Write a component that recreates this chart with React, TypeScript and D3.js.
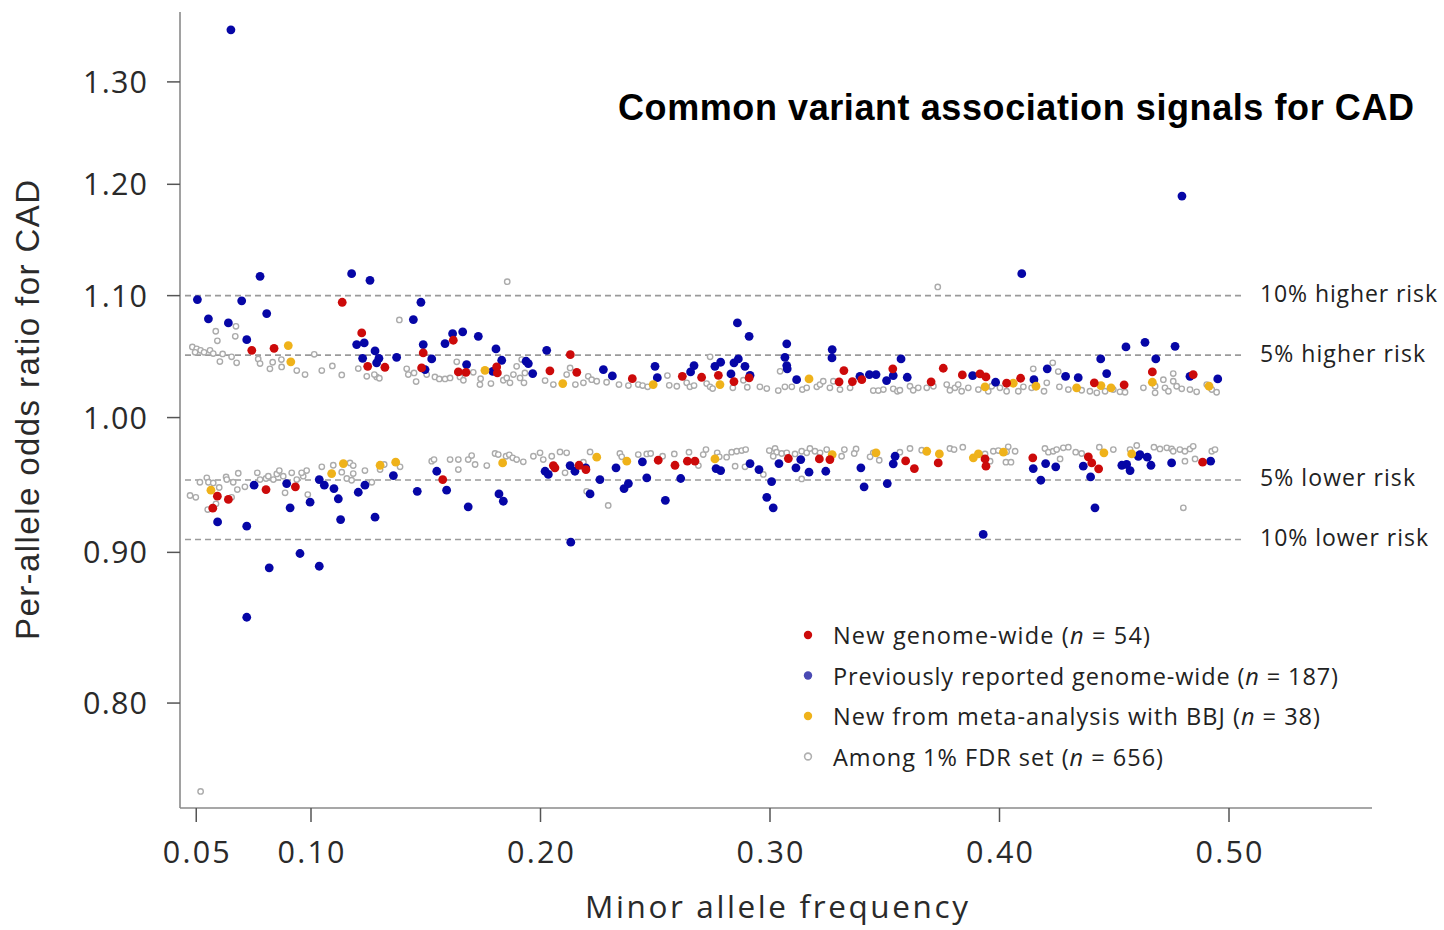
import React from 'react';
import * as d3 from 'd3';

// Per-variant minor allele frequency and per-allele odds ratio, [maf, or]
const newGenomeWide: [number, number][] = [
  [0.1136, 1.0943], [0.1221, 1.0684], [0.0742, 1.054], [0.0839, 1.0556], [0.1247, 1.0409], [0.1322, 1.0401],
  [0.1482, 1.0396], [0.162, 1.0623], [0.1489, 1.0518], [0.1642, 1.0363], [0.1675, 1.036], [0.1809, 1.0404],
  [0.1812, 1.0355], [0.2041, 1.0372], [0.213, 1.0504], [0.2158, 1.036], [0.24, 1.0309], [0.2618, 1.0328],
  [0.2702, 1.032], [0.2775, 1.0336], [0.2843, 1.0285], [0.2909, 1.0315], [0.3322, 1.0374], [0.3301, 1.0283],
  [0.3359, 1.0285], [0.34, 1.0301], [0.3535, 1.0388], [0.3755, 1.0393], [0.3702, 1.0283], [0.3838, 1.0339],
  [0.3915, 1.0347], [0.3941, 1.0323], [0.4031, 1.0272], [0.4092, 1.0312], [0.4413, 1.0275], [0.4543, 1.0259],
  [0.4666, 1.0363], [0.4844, 1.0342],
  [0.0592, 0.9404], [0.064, 0.938], [0.0572, 0.9316], [0.0804, 0.9453], [0.0932, 0.9473], [0.1574, 0.9527],
  [0.2056, 0.9632], [0.2063, 0.9615], [0.2168, 0.9634], [0.2198, 0.9602], [0.2513, 0.9672], [0.2586, 0.9634],
  [0.264, 0.9665], [0.2673, 0.9665], [0.308, 0.9685], [0.3215, 0.9682], [0.3261, 0.9677], [0.3591, 0.9667],
  [0.3629, 0.9609], [0.3733, 0.9652], [0.3937, 0.9682], [0.3941, 0.9627], [0.4145, 0.969], [0.4387, 0.9698],
  [0.4402, 0.9652], [0.4432, 0.9607], [0.4885, 0.9657],
];

const previouslyReported: [number, number][] = [
  [0.0651, 1.354], [0.4795, 1.189], [0.4097, 1.119], [0.0778, 1.1167], [0.1177, 1.119], [0.1257, 1.1132],
  [0.0505, 1.0966], [0.0698, 1.0955], [0.0807, 1.0847], [0.0553, 1.0802], [0.064, 1.0768], [0.072, 1.0628],
  [0.1199, 1.0587], [0.1232, 1.0601], [0.1225, 1.0474], [0.1279, 1.0535], [0.1296, 1.0474], [0.1286, 1.0437],
  [0.1373, 1.0482], [0.1446, 1.0796], [0.1479, 1.0943], [0.1617, 1.0678], [0.1661, 1.0693], [0.1584, 1.0595],
  [0.1729, 1.0656], [0.1489, 1.0587], [0.1526, 1.0469], [0.1806, 1.0551], [0.1831, 1.0458], [0.1678, 1.0423],
  [0.1937, 1.045], [0.1947, 1.0431], [0.1966, 1.035], [0.2027, 1.054], [0.1497, 1.0382], [0.1792, 1.0368],
  [0.2274, 1.0382], [0.2313, 1.0331], [0.2499, 1.0409], [0.2509, 1.0317], [0.2858, 1.0768], [0.2909, 1.0656],
  [0.3073, 1.0593], [0.3065, 1.0482], [0.3073, 1.0415], [0.3075, 1.0388], [0.3271, 1.0546], [0.327, 1.0477],
  [0.3571, 1.0469], [0.2669, 1.0415], [0.2654, 1.0363], [0.276, 1.0409], [0.2785, 1.0442], [0.2843, 1.0437],
  [0.2862, 1.0469], [0.2891, 1.0409], [0.283, 1.0347], [0.2913, 1.0336], [0.3116, 1.0301], [0.3392, 1.0328],
  [0.3433, 1.0342], [0.3462, 1.0342], [0.3508, 1.0293], [0.3537, 1.0334], [0.4551, 1.0568], [0.4441, 1.0469],
  [0.4467, 1.035], [0.3598, 1.032], [0.3883, 1.0334], [0.3983, 1.028], [0.415, 1.0301], [0.4208, 1.0388],
  [0.4288, 1.0328], [0.4343, 1.0317], [0.4634, 1.0606], [0.4765, 1.0573], [0.4681, 1.0469], [0.483, 1.0328],
  [0.4951, 1.0307],
  [0.0752, 0.9485], [0.0894, 0.9497], [0.1036, 0.9527], [0.1058, 0.9485], [0.11, 0.946], [0.1235, 0.9485],
  [0.1206, 0.9433], [0.1359, 0.9557], [0.1463, 0.944], [0.0996, 0.936], [0.1119, 0.9385], [0.0909, 0.9319],
  [0.0593, 0.9217], [0.072, 0.9186], [0.1129, 0.9234], [0.1279, 0.9251], [0.0952, 0.8992], [0.0818, 0.8892],
  [0.1036, 0.8903], [0.072, 0.8555], [0.1548, 0.9589], [0.1591, 0.9448], [0.1685, 0.9326], [0.1819, 0.9421],
  [0.1838, 0.9367], [0.202, 0.9589], [0.2034, 0.9565], [0.2129, 0.9632], [0.215, 0.9589], [0.2197, 0.9615],
  [0.2216, 0.9421], [0.2259, 0.9527], [0.2329, 0.9615], [0.2364, 0.946], [0.2383, 0.9497], [0.2444, 0.966],
  [0.2463, 0.954], [0.2132, 0.9072], [0.2765, 0.9609], [0.2785, 0.9594], [0.2913, 0.9647], [0.2952, 0.9602],
  [0.3007, 0.9512], [0.2986, 0.9396], [0.3014, 0.9319], [0.3039, 0.9647], [0.3113, 0.9615], [0.3134, 0.9677],
  [0.317, 0.9582], [0.3243, 0.9589], [0.3396, 0.9615], [0.341, 0.9473], [0.3511, 0.9497], [0.3545, 0.9702],
  [0.3537, 0.9645], [0.2544, 0.9374], [0.2611, 0.9535], [0.3929, 0.9127], [0.4416, 0.9319], [0.4147, 0.9609],
  [0.4201, 0.9647], [0.4245, 0.9622], [0.418, 0.9522], [0.4365, 0.9627], [0.4397, 0.9547], [0.4533, 0.9634],
  [0.4554, 0.964], [0.4569, 0.9594], [0.4605, 0.9702], [0.4612, 0.9715], [0.4644, 0.9695], [0.466, 0.9634],
  [0.475, 0.9652], [0.492, 0.9665],
];

const newFromBBJ: [number, number][] = [
  [0.0901, 1.0579], [0.0912, 1.0445], [0.1758, 1.0376], [0.2097, 1.0269], [0.2491, 1.0261], [0.2782, 1.0261],
  [0.317, 1.0307], [0.3937, 1.0243], [0.406, 1.0272], [0.4159, 1.0248], [0.4336, 1.0235], [0.4442, 1.0253],
  [0.4486, 1.0235], [0.4666, 1.028], [0.4913, 1.0248],
  [0.0564, 0.9448], [0.109, 0.9572], [0.1141, 0.9647], [0.1301, 0.9634], [0.1369, 0.9657], [0.1835, 0.9652],
  [0.2245, 0.9695], [0.2376, 0.9665], [0.276, 0.9682], [0.3271, 0.9715], [0.3462, 0.9728], [0.3683, 0.974],
  [0.3738, 0.972], [0.3886, 0.969], [0.3908, 0.972], [0.4017, 0.9733], [0.4455, 0.9728], [0.4576, 0.972],
];

const fdrSet: [number, number][] = [
  [0.0483, 1.0568], [0.0502, 1.0552], [0.0495, 1.0523], [0.0519, 1.054], [0.0534, 1.0523], [0.056, 1.054],
  [0.0574, 1.0513], [0.0615, 1.051], [0.0603, 1.0447], [0.0654, 1.0486], [0.0676, 1.0437], [0.0585, 1.0698],
  [0.0592, 1.0618], [0.0673, 1.0739], [0.067, 1.0656], [0.077, 1.0469], [0.0778, 1.0431], [0.0821, 1.0388],
  [0.0833, 1.0442], [0.0871, 1.0464], [0.0872, 1.0404], [0.0938, 1.0374], [0.0974, 1.0342], [0.1014, 1.0507],
  [0.1047, 1.0374], [0.1093, 1.0412], [0.1134, 1.0339], [0.1206, 1.039], [0.1243, 1.0328], [0.1286, 1.0323],
  [0.1298, 1.0312], [0.1276, 1.0342], [0.1385, 1.0793], [0.1417, 1.0388], [0.1424, 1.0342], [0.1458, 1.0285],
  [0.1449, 1.0355],
  [0.0473, 0.9409], [0.0498, 0.9396], [0.0516, 0.9507], [0.0546, 0.954], [0.0553, 0.9507], [0.0574, 0.9502],
  [0.06, 0.9468], [0.055, 0.9306], [0.0586, 0.9348], [0.063, 0.9547], [0.0633, 0.9527], [0.0654, 0.9396],
  [0.0661, 0.9507], [0.0679, 0.9453], [0.0683, 0.9574], [0.0712, 0.9473], [0.0766, 0.9577], [0.0778, 0.9527],
  [0.0804, 0.9535], [0.0814, 0.9552], [0.0836, 0.9527], [0.0851, 0.9569], [0.0862, 0.9594], [0.0879, 0.9552],
  [0.0887, 0.9429], [0.0916, 0.9577], [0.0938, 0.9527], [0.0966, 0.9552], [0.0981, 0.9594], [0.0959, 0.9577],
  [0.0986, 0.9416], [0.1047, 0.9622], [0.1097, 0.9634], [0.1134, 0.9582], [0.1156, 0.9535], [0.117, 0.9652],
  [0.1184, 0.9632], [0.1184, 0.9572], [0.1177, 0.9522], [0.1235, 0.9594], [0.1265, 0.9507], [0.1301, 0.9602],
  [0.1319, 0.964], [0.1388, 0.9622],
  [0.1855, 1.1121], [0.1504, 1.0342], [0.154, 1.0323], [0.1559, 1.0307], [0.1584, 1.0307], [0.1606, 1.0315],
  [0.1635, 1.0445], [0.1649, 1.0323], [0.1664, 1.0296], [0.1707, 1.036], [0.1736, 1.0261], [0.1739, 1.0309],
  [0.1784, 1.0269], [0.1838, 1.0296], [0.1853, 1.0315], [0.1867, 1.0275], [0.1882, 1.0342], [0.1896, 1.0409],
  [0.1911, 1.0315], [0.1918, 1.0464], [0.1928, 1.0275], [0.1932, 1.0355], [0.202, 1.0293], [0.2056, 1.0261],
  [0.2114, 1.0342], [0.2129, 1.0396], [0.2152, 1.0261], [0.2187, 1.0275], [0.2208, 1.0328], [0.2223, 1.0301],
  [0.2245, 1.0288], [0.2288, 1.028], [0.2342, 1.0261], [0.2383, 1.0253], [0.2426, 1.0261], [0.2445, 1.0253],
  [0.2467, 1.0243],
  [0.1526, 0.9665], [0.1536, 0.9677], [0.1606, 0.9677], [0.1642, 0.9677], [0.1642, 0.9602], [0.1685, 0.9677],
  [0.17, 0.9707], [0.1715, 0.964], [0.1766, 0.9632], [0.1802, 0.9723], [0.1816, 0.9715], [0.185, 0.9702],
  [0.1864, 0.9713], [0.1879, 0.969], [0.1896, 0.9677], [0.1925, 0.966], [0.1969, 0.9702], [0.1998, 0.9728],
  [0.2012, 0.9677], [0.2049, 0.9702], [0.2085, 0.9735], [0.2114, 0.9728], [0.2107, 0.9577], [0.2187, 0.9657],
  [0.2201, 0.944], [0.2216, 0.9735], [0.2295, 0.9336], [0.2346, 0.9723], [0.2354, 0.9698], [0.2426, 0.9715],
  [0.2463, 0.972], [0.248, 0.9723],
  [0.2553, 1.0334], [0.2561, 1.0255], [0.2594, 1.0248], [0.2637, 1.0275], [0.2651, 1.0243], [0.2669, 1.0253],
  [0.2724, 1.0269], [0.2739, 1.0243], [0.275, 1.0229], [0.2739, 1.0486], [0.2838, 1.0235], [0.2884, 1.0296],
  [0.2901, 1.024], [0.2956, 1.0243], [0.2986, 1.0229], [0.3036, 1.0213], [0.3044, 1.0368], [0.3065, 1.0243],
  [0.3095, 1.0243], [0.3141, 1.0221], [0.316, 1.0235], [0.3204, 1.0243], [0.3218, 1.0261], [0.3232, 1.0288],
  [0.3261, 1.0235], [0.3276, 1.0288], [0.3305, 1.0221], [0.3349, 1.0235], [0.345, 1.0213], [0.3472, 1.0213],
  [0.3494, 1.0221], [0.3537, 1.0227], [0.3555, 1.0208],
  [0.2532, 0.9702], [0.2583, 0.972], [0.2647, 0.9733], [0.2688, 0.9632], [0.2709, 0.9715], [0.2721, 0.9753],
  [0.277, 0.9728], [0.2779, 0.9698], [0.2811, 0.9695], [0.2833, 0.9733], [0.2855, 0.974], [0.2877, 0.9745],
  [0.2894, 0.9753], [0.2848, 0.9627], [0.2891, 0.9622], [0.2971, 0.9565], [0.2997, 0.9745], [0.3022, 0.9761],
  [0.3029, 0.9733], [0.3014, 0.9702], [0.3051, 0.9723], [0.3073, 0.9728], [0.3109, 0.972], [0.3138, 0.974],
  [0.316, 0.9728], [0.3174, 0.9761], [0.3138, 0.9532], [0.3196, 0.974], [0.3218, 0.9728], [0.3247, 0.9753],
  [0.3312, 0.9702], [0.3324, 0.9753], [0.3375, 0.9758], [0.3367, 0.9723], [0.345, 0.9728], [0.3436, 0.9698],
  [0.3476, 0.9672],
  [0.3731, 1.1075], [0.3566, 1.0216], [0.361, 1.0248], [0.3624, 1.0216], [0.3646, 1.0235], [0.3683, 1.0235],
  [0.3712, 1.0248], [0.377, 1.0261], [0.3784, 1.0216], [0.3806, 1.0235], [0.382, 1.0261], [0.3835, 1.0208],
  [0.3864, 1.0235], [0.3908, 1.0221], [0.3951, 1.0208], [0.3966, 1.0248], [0.4002, 1.0235], [0.4031, 1.0208],
  [0.4082, 1.0208], [0.4104, 1.0243], [0.414, 1.0235], [0.4147, 1.0388], [0.4194, 1.0208], [0.4206, 1.0275],
  [0.4232, 1.0437], [0.4256, 1.0366], [0.4261, 1.0243], [0.43, 1.0221], [0.4358, 1.0216], [0.4394, 1.0208],
  [0.4424, 1.0195], [0.446, 1.0208], [0.4496, 1.0221], [0.4525, 1.0203], [0.4547, 1.02],
  [0.3566, 0.9733], [0.361, 0.9761], [0.3661, 0.9748], [0.3784, 0.9761], [0.3802, 0.9753], [0.384, 0.9771],
  [0.3937, 0.972], [0.3959, 0.9665], [0.3973, 0.974], [0.3995, 0.9745], [0.4038, 0.9774], [0.4031, 0.9736],
  [0.4068, 0.974], [0.4028, 0.9657], [0.405, 0.9657], [0.4198, 0.9761], [0.4213, 0.9733], [0.4234, 0.974],
  [0.4249, 0.9753], [0.4264, 0.9682], [0.4278, 0.9766], [0.43, 0.9771], [0.4332, 0.9733], [0.4358, 0.9723],
  [0.4435, 0.9771], [0.4496, 0.9753], [0.4569, 0.9753], [0.4598, 0.9784],
  [0.4627, 1.0235], [0.4678, 1.0248], [0.4714, 1.0301], [0.4721, 1.0235], [0.4757, 1.035], [0.4757, 1.0288],
  [0.4772, 1.0248], [0.4794, 1.0227], [0.483, 1.0221], [0.4859, 1.0203], [0.4903, 1.0261], [0.4925, 1.0221],
  [0.4946, 1.02], [0.4678, 1.0195], [0.4736, 1.0208],
  [0.4673, 0.9771], [0.4699, 0.9758], [0.4729, 0.9766], [0.475, 0.9758], [0.4757, 0.974], [0.4786, 0.9753],
  [0.4808, 0.974], [0.483, 0.9758], [0.4844, 0.9778], [0.4852, 0.9682], [0.4808, 0.9665], [0.4925, 0.974],
  [0.4939, 0.9753], [0.4801, 0.9319],
  [0.0519, 0.7466],
];

const xTickValues = [0.05, 0.1, 0.2, 0.3, 0.4, 0.5];
const yTickValues = [0.8, 0.9, 1.0, 1.1, 1.2, 1.3];

// Reference odds ratios: 10% / 5% higher and lower risk
const riskLines = [
  { or: 1.1, label: '10% higher risk', width: 177 },
  { or: 1.05, label: '5% higher risk', width: 165 },
  { or: 1 / 1.05, label: '5% lower risk', width: 155 },
  { or: 1 / 1.1, label: '10% lower risk', width: 168 },
];

const legendItems = [
  { label: 'New genome-wide', n: 54, color: '#cc0a0a', open: false, width: 317 },
  { label: 'Previously reported genome-wide', n: 187, color: '#4a4ab4', open: false, width: 505 },
  { label: 'New from meta-analysis with BBJ', n: 38, color: '#efb21a', open: false, width: 487 },
  { label: 'Among 1% FDR set', n: 656, color: '#b0b0b0', open: true, width: 330 },
];

const RED = '#cc0a0a';
const BLUE = '#0606a6';
const GOLD = '#efb21a';
const GREY = '#ababab';

const FONT = '"Open Sans", Lato, sans-serif';

export default function App() {
  const x = d3.scaleLinear().domain([0.1, 0.5]).range([311, 1229]);
  const y = d3.scaleLog().domain([0.737, 1.373]).range([808, 12]);
  const fmt = d3.format('.2f');

  const axisColor = '#8a8a8a';
  const x0 = 180;
  const x1 = 1372;
  const yBottom = 808;
  const yTop = 12;

  const filled = (data: [number, number][], color: string, key: string) =>
    data.map(([m, o], i) => (
      <circle key={`${key}${i}`} cx={x(m)} cy={y(o)} r={4.4} fill={color} />
    ));

  return (
    <svg
      width={1444}
      height={930}
      style={{ position: 'absolute', left: 0, top: 0, background: '#fff' }}
      fontFamily={FONT}
    >
      <rect x={0} y={0} width={1444} height={930} fill="#fff" />

      {/* reference risk lines */}
      {riskLines.map((r) => (
        <g key={r.label}>
          <line
            x1={185}
            x2={1243}
            y1={y(r.or)}
            y2={y(r.or)}
            stroke="#9a9a9a"
            strokeWidth={1.6}
            strokeDasharray="6 4"
          />
          <text
            x={1260}
            y={y(r.or) + 6.5}
            fontSize={23}
            fill="#222"
            textLength={r.width}
            lengthAdjust="spacing"
          >
            {r.label}
          </text>
        </g>
      ))}

      {/* axes */}
      <line x1={x0} x2={x0} y1={yTop} y2={yBottom} stroke={axisColor} strokeWidth={1.6} />
      <line x1={x0} x2={x1} y1={yBottom} y2={yBottom} stroke={axisColor} strokeWidth={1.6} />
      {yTickValues.map((t) => (
        <g key={`y${t}`}>
          <line x1={x0 - 13} x2={x0} y1={y(t)} y2={y(t)} stroke="#555" strokeWidth={1.5} />
          <text
            x={147}
            y={y(t)}
            dy="0.36em"
            textAnchor="end"
            fontSize={30.5}
            fill="#2a2a2a"
            textLength={64}
            lengthAdjust="spacing"
          >
            {fmt(t)}
          </text>
        </g>
      ))}
      {xTickValues.map((t) => (
        <g key={`x${t}`}>
          <line x1={x(t)} x2={x(t)} y1={yBottom} y2={yBottom + 14} stroke="#555" strokeWidth={1.5} />
          <text
            x={x(t)}
            y={852}
            dy="0.36em"
            textAnchor="middle"
            fontSize={30.5}
            fill="#2a2a2a"
            textLength={67}
            lengthAdjust="spacing"
          >
            {fmt(t)}
          </text>
        </g>
      ))}

      {/* axis titles */}
      <text
        x={585}
        y={918}
        fontSize={31.5}
        fill="#2a2a2a"
        textLength={383}
        lengthAdjust="spacing"
      >
        Minor allele frequency
      </text>
      <text
        transform="translate(39,640) rotate(-90)"
        fontFamily='"Liberation Sans", Arial, sans-serif'
        fontSize={33}
        fill="#2a2a2a"
        textLength={460}
        lengthAdjust="spacing"
      >
        Per-allele odds ratio for CAD
      </text>

      {/* points */}
      <g>
        {fdrSet.map(([m, o], i) => (
          <circle key={`g${i}`} cx={x(m)} cy={y(o)} r={2.7} fill="#fff" stroke={GREY} strokeWidth={1.4} />
        ))}
      </g>
      <g>{filled(previouslyReported, BLUE, 'b')}</g>
      <g>{filled(newFromBBJ, GOLD, 'y')}</g>
      <g>{filled(newGenomeWide, RED, 'r')}</g>

      {/* legend */}
      {legendItems.map((item, i) => {
        const cy = 635 + i * 40.5;
        return (
          <g key={item.label}>
            {item.open ? (
              <circle cx={808} cy={cy} r={3.4} fill="#fff" stroke={item.color} strokeWidth={1.6} />
            ) : (
              <circle cx={808} cy={cy} r={4.2} fill={item.color} />
            )}
            <text
              x={833}
              y={cy + 9}
              fontSize={23.5}
              fill="#222"
              textLength={item.width}
              lengthAdjust="spacing"
            >
              {item.label} (<tspan fontStyle="italic">n</tspan> = {item.n})
            </text>
          </g>
        );
      })}

      {/* title */}
      <text
        x={618}
        y={120}
        fontFamily='"Liberation Sans", Arial, sans-serif'
        fontWeight="bold"
        fontSize={36}
        fill="#000"
        textLength={796}
        lengthAdjust="spacing"
      >
        Common variant association signals for CAD
      </text>
    </svg>
  );
}
